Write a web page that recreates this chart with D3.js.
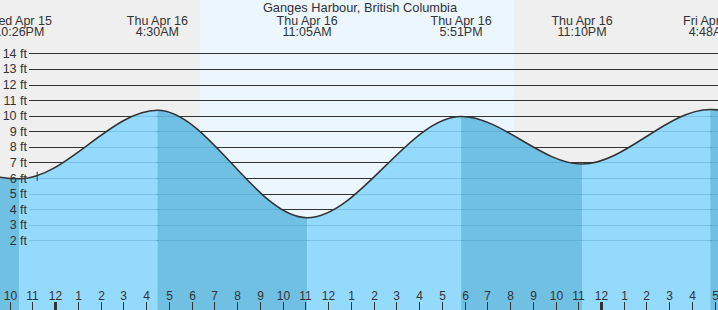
<!DOCTYPE html>
<html>
<head>
<meta charset="utf-8">
<script src="https://cdn.jsdelivr.net/npm/d3@7"></script>
<style>
  body { margin: 0; background: #fff; }
  svg { display: block; font-family: "Liberation Sans", Arial, sans-serif; }
</style>
</head>
<body>
<svg id="chart" width="718" height="310"></svg>
<script>
// tide extremes, [year, month, day, hour, minute] and height in ft
// first and last ones sit off the chart so the curve runs to the edges
const extremeTimes = [
  [2015, 3, 15, 16, 10],
  [2015, 3, 15, 22, 26],
  [2015, 3, 16, 4, 30],
  [2015, 3, 16, 11, 5],
  [2015, 3, 16, 17, 51],
  [2015, 3, 16, 23, 10],
  [2015, 3, 17, 4, 48],
  [2015, 3, 17, 12, 10]
];
const extremeHeights = [9.6, 5.95, 10.35, 3.45, 9.95, 6.9, 10.4, 2.8];
const labelled = [1, 2, 3, 4, 5, 6];   // which extremes get a label on top

const sunrise = [2015, 3, 16, 6, 22];
const sunset = [2015, 3, 16, 20, 11];
const nowTime = [2015, 3, 15, 23, 13];

const feetTicks = [2, 3, 4, 5, 6, 7, 8, 9, 10, 11, 12, 13, 14];
const title = "Ganges Harbour, British Columbia";

const width = 718, height = 310;
const toDate = a => new Date(a[0], a[1], a[2], a[3], a[4]);

const tides = extremeTimes.map((t, i) => ({ date: toDate(t), h: extremeHeights[i] }));

const x = d3.scaleTime()
  .domain([new Date(2015, 3, 15, 22), new Date(2015, 3, 17, 5)])
  .range([9.5, 714.75]);
const y = d3.scaleLinear().domain([0, 14]).range([271.5, 53.4]);

const svg = d3.select("#chart");

// night / day background
svg.append("rect").attr("width", width).attr("height", height).attr("fill", "#efefef");
svg.append("rect")
  .attr("x", x(toDate(sunrise)))
  .attr("width", x(toDate(sunset)) - x(toDate(sunrise)))
  .attr("height", height)
  .attr("fill", "#ebf6ff");

// grid lines (dark above the water)
const gridX0 = 29;
svg.append("g").selectAll("line").data(feetTicks).enter().append("line")
  .attr("x1", gridX0).attr("x2", width)
  .attr("y1", d => Math.round(y(d)) + 0.5).attr("y2", d => Math.round(y(d)) + 0.5)
  .attr("stroke", "#333").attr("stroke-width", 1);

// water
const area = d3.area()
  .x(d => x(d.date)).y0(height).y1(d => y(d.h))
  .curve(d3.curveMonotoneX);
const line = d3.line()
  .x(d => x(d.date)).y(d => y(d.h))
  .curve(d3.curveMonotoneX);

svg.append("clipPath").attr("id", "water")
  .append("path").attr("d", area(tides));

const bands = d3.pairs(tides);
svg.append("g").attr("clip-path", "url(#water)")
  .selectAll("rect").data(bands).enter().append("rect")
  .attr("x", d => x(d[0].date))
  .attr("width", d => x(d[1].date) - x(d[0].date))
  .attr("y", 0).attr("height", height)
  .attr("fill", d => d[1].h > d[0].h ? "#93dafd" : "#70c0e4");

// faint grid lines under the water
svg.append("g").attr("clip-path", "url(#water)")
  .selectAll("line").data(feetTicks).enter().append("line")
  .attr("x1", gridX0).attr("x2", width)
  .attr("y1", d => Math.round(y(d)) + 0.5).attr("y2", d => Math.round(y(d)) + 0.5)
  .attr("stroke", "rgba(30,110,160,0.22)").attr("stroke-width", 1);

svg.append("path")
  .attr("d", line(tides))
  .attr("fill", "none").attr("stroke", "#333").attr("stroke-width", 1.5);

// current time marker
const nowD = toDate(nowTime);
const nowY = y(d3.interpolateNumber(extremeHeights[1], extremeHeights[2])(0.03));
svg.append("line")
  .attr("x1", x(nowD)).attr("x2", x(nowD))
  .attr("y1", nowY - 5).attr("y2", nowY + 4)
  .attr("stroke", "#333").attr("stroke-width", 1);

// feet labels
svg.append("g").selectAll("text").data(feetTicks).enter().append("text")
  .attr("x", 27).attr("y", d => y(d) + 4.5)
  .attr("text-anchor", "end")
  .attr("font-size", "12.5px").attr("fill", "#333")
  .text(d => d + " ft");

// hour axis at the bottom
const hours = x.ticks(d3.timeHour.every(1));
const fmtHour = d3.timeFormat("%-I");
const hourG = svg.append("g").selectAll("g").data(hours).enter().append("g")
  .attr("transform", d => `translate(${Math.round(x(d)) + 0.5},0)`);
hourG.append("line")
  .attr("y1", 302).attr("y2", height)
  .attr("stroke", "#333")
  .attr("stroke-width", d => d.getHours() === 0 ? 3 : 1);
hourG.append("text")
  .attr("y", 299.5).attr("text-anchor", "middle")
  .attr("font-size", "12px").attr("fill", "#333")
  .text(d => fmtHour(d));

// title and extreme labels
svg.append("text")
  .attr("x", 360).attr("y", 12)
  .attr("text-anchor", "middle").attr("font-size", "12.8px").attr("fill", "#333")
  .text(title);

const fmtDay = d3.timeFormat("%a %b %d");
const fmtTime = d3.timeFormat("%-I:%M%p");
const lab = svg.append("g").selectAll("text").data(labelled.map(i => tides[i])).enter()
  .append("text")
  .attr("text-anchor", "middle").attr("font-size", "12.5px").attr("fill", "#333");
lab.append("tspan").attr("x", d => x(d.date)).attr("y", 24.5).text(d => fmtDay(d.date));
lab.append("tspan").attr("x", d => x(d.date)).attr("y", 36).text(d => fmtTime(d.date));
</script>
</body>
</html>
